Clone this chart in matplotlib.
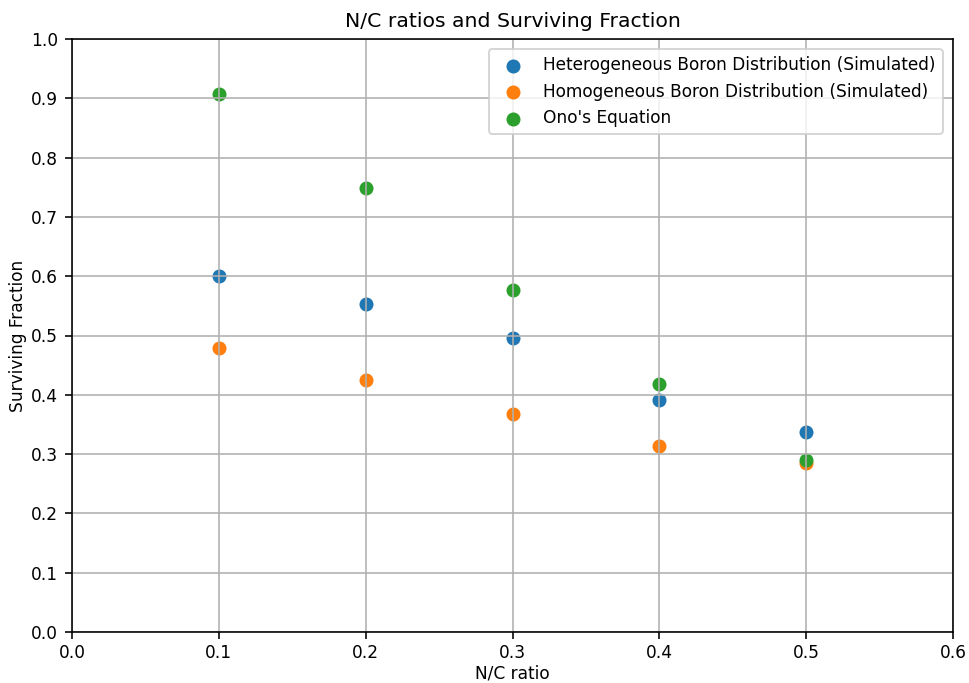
import matplotlib
matplotlib.use("Agg")
import matplotlib.pyplot as plt

nc_ratio = [0.1, 0.2, 0.3, 0.4, 0.5]
hetero = [0.600, 0.553, 0.496, 0.391, 0.337]
homo = [0.479, 0.425, 0.368, 0.314, 0.285]
ono = [0.907, 0.749, 0.577, 0.418, 0.290]

plt.rcParams['font.size'] = 8.5
dpi = 144
fig = plt.figure(figsize=(969 / dpi, 683 / dpi), dpi=dpi)
ax = fig.add_axes([72 / 969, 1 - 632 / 683, (953 - 72) / 969, (632 - 39) / 683])

ax.scatter(nc_ratio, hetero, label="Heterogeneous Boron Distribution (Simulated)")
ax.scatter(nc_ratio, homo, label="Homogeneous Boron Distribution (Simulated)")
ax.scatter(nc_ratio, ono, label="Ono's Equation")

ax.set_xlim(0, 0.6)
ax.set_ylim(0, 1.0)
ax.set_xticks([0.0, 0.1, 0.2, 0.3, 0.4, 0.5, 0.6])
ax.set_yticks([i / 10 for i in range(11)])
ax.tick_params(axis='x', pad=2.5)
ax.set_xlabel("N/C ratio", labelpad=1.5)
ax.set_ylabel("Surviving Fraction", labelpad=2)
ax.set_title("N/C ratios and Surviving Fraction")
ax.grid(True)
ax.legend(loc="upper right", borderaxespad=0.6)

fig.savefig("out.png", dpi=dpi)
